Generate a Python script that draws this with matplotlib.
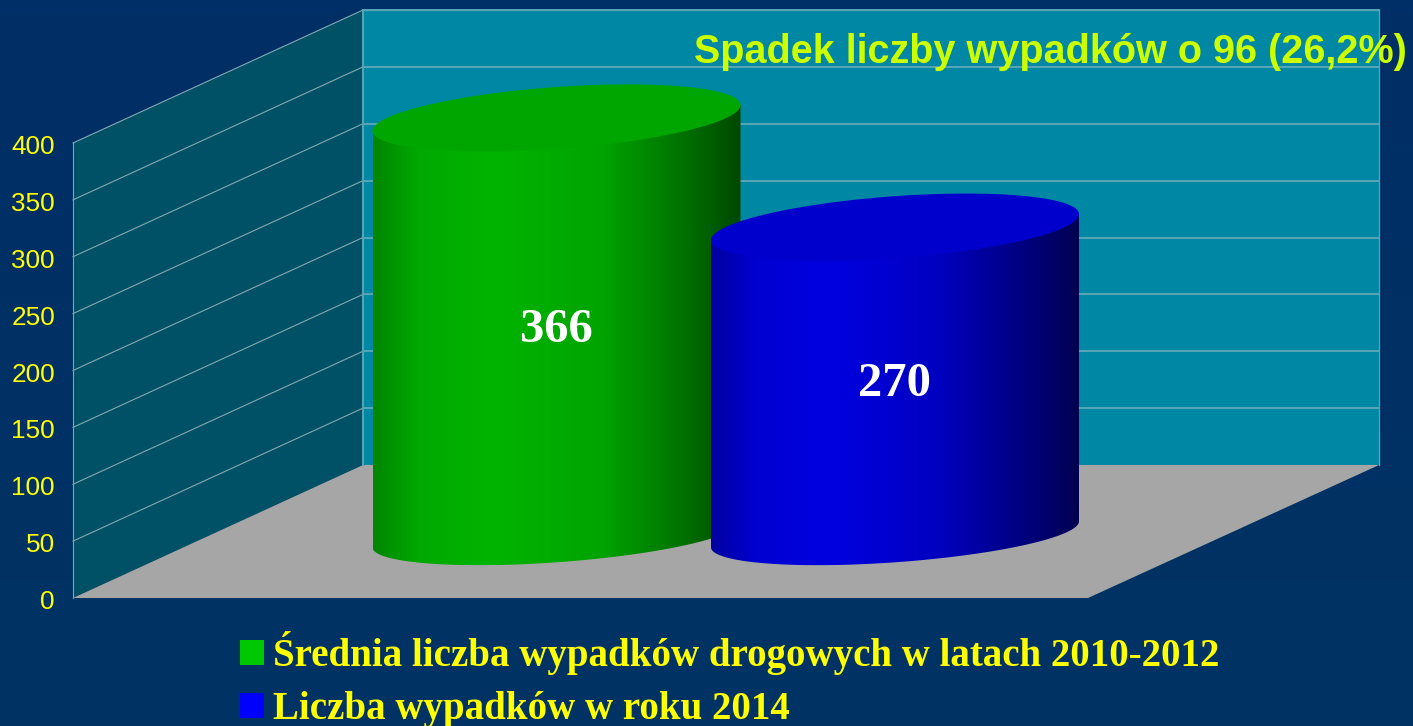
import numpy as np
import matplotlib
matplotlib.use("Agg")
import matplotlib.pyplot as plt
from matplotlib.patches import Polygon, Patch
from matplotlib.colors import LinearSegmentedColormap
from matplotlib.transforms import ScaledTranslation

# ---- data ----
series_names = ["Średnia liczba wypadków drogowych w latach 2010-2012",
                "Liczba wypadków w roku 2014"]
series_values = [366, 270]
value_labels = ["366", "270"]
y_ticks = [0, 50, 100, 150, 200, 250, 300, 350, 400]
note_text = "Spadek liczby wypadków o 96 (26,2%)"

# ---- styles / geometry (pixels of the 1413x726 canvas) ----
W, H = 1413, 726
PX_L, PX_R, PX_BOTTOM, PX_TOP = 73, 1379, 598, 143
K = (PX_BOTTOM - PX_TOP) / 400.0      # px per value unit
DEPTH_X, DEPTH_Y = 290, 133 / K       # depth offset (px, value units)
FRONT_R = 1088
YMAX = 400
centres = [556.5, 895.0]
HALF_W = 184.0
TILT = 13.0 / K
HALF_D = 31.0 / K
BASE_D = 28.0 / K
BASE = 56.0
LABEL_DROP = 3.5 / K
sides = [
    ["#008600", "#00a800", "#00b400", "#00a400", "#007000", "#004800"],
    ["#0000a0", "#0000d0", "#0000e0", "#0000c0", "#000080", "#000050"],
]
tops = ["#00a600", "#0000cc"]
swatches = ["#00c800", "#0000ff"]
stops = [0.0, 0.12, 0.32, 0.62, 0.85, 1.0]

fig = plt.figure(figsize=(W / 100, H / 100), dpi=100)

# background
bg = fig.add_axes([0, 0, 1, 1], zorder=0)
bg.imshow(np.linspace(0, 1, 64).reshape(-1, 1), aspect="auto",
          cmap=LinearSegmentedColormap.from_list("bg", ["#002e66", "#003363"]))
bg.axis("off")

ax = fig.add_axes([PX_L / W, (H - PX_BOTTOM) / H,
                   (PX_R - PX_L) / W, (PX_BOTTOM - PX_TOP) / H], zorder=1)
ax.patch.set_alpha(0)
for s in ax.spines.values():
    s.set_visible(False)
ax.set_xticks([])
ax.set_yticks(y_ticks)
ax.tick_params(axis="y", length=0, pad=13, labelcolor="#ffff00")
label_shift = ScaledTranslation(0, -0.015, fig.dpi_scale_trans)
for lab in ax.get_yticklabels():
    lab.set_fontfamily("Liberation Sans")
    lab.set_fontsize(18.8)
    lab.set_transform(lab.get_transform() + label_shift)


def poly(pts, **kw):
    p = Polygon(pts, closed=True, clip_on=False, **kw)
    ax.add_patch(p)
    return p


# walls and floor
poly([(PX_L, 0), (PX_L, YMAX), (PX_L + DEPTH_X, YMAX + DEPTH_Y), (PX_L + DEPTH_X, DEPTH_Y)],
     facecolor="#005066", edgecolor="none", zorder=1)
poly([(PX_L + DEPTH_X, DEPTH_Y), (PX_L + DEPTH_X, YMAX + DEPTH_Y),
      (PX_R, YMAX + DEPTH_Y), (PX_R, DEPTH_Y)],
     facecolor="#0087a3", edgecolor="none", zorder=1)
poly([(PX_L, 0), (PX_L + DEPTH_X, DEPTH_Y), (PX_R, DEPTH_Y), (FRONT_R, 0)],
     facecolor="#a6a6a6", edgecolor="none", zorder=2)

# gridlines
for v in y_ticks[1:]:
    ax.plot([PX_L, PX_L + DEPTH_X], [v, v + DEPTH_Y], color="#85a8b2", lw=0.8, clip_on=False, zorder=3)
    ax.plot([PX_L + DEPTH_X, PX_R], [v + DEPTH_Y, v + DEPTH_Y], color="#58a6b8", lw=1.4,
            clip_on=False, zorder=3)
ax.plot([PX_L, PX_L], [0, YMAX], color="#7fa6b0", lw=0.8, clip_on=False, zorder=3)
ax.plot([PX_L + DEPTH_X] * 2, [DEPTH_Y, YMAX + DEPTH_Y], color="#58a6b8", lw=1.4, clip_on=False, zorder=3)
ax.plot([PX_R, PX_R], [DEPTH_Y, YMAX + DEPTH_Y], color="#58a6b8", lw=0.9, clip_on=False, zorder=3)
ax.plot([PX_L + DEPTH_X, PX_R], [YMAX + DEPTH_Y] * 2, color="#58a6b8", lw=0.9, clip_on=False, zorder=3)

# cylinders
t_front = np.linspace(np.pi, 2 * np.pi, 120)
t_all = np.linspace(0, 2 * np.pi, 240)


def rim(cx, level, t, depth=HALF_D):
    return np.column_stack([cx + HALF_W * np.cos(t),
                            level + TILT * np.cos(t) + depth * np.sin(t)])


for i, val in enumerate(series_values):
    cx = centres[i]
    z = 4 + i * 3
    top_level = BASE + val
    base_arc = rim(cx, BASE, t_front, BASE_D)
    side_pts = np.vstack([rim(cx, top_level, np.array([np.pi])), base_arc,
                          rim(cx, top_level, np.array([0.0]))])
    clip = poly(side_pts, facecolor="none", edgecolor="none", zorder=z)
    cmap = LinearSegmentedColormap.from_list("c%d" % i, list(zip(stops, sides[i])))
    im = ax.imshow(np.linspace(0, 1, 256).reshape(1, -1), cmap=cmap, aspect="auto",
                   extent=[cx - HALF_W, cx + HALF_W, BASE - 60, top_level + 60],
                   interpolation="bilinear", zorder=z)
    im.set_clip_box(fig.bbox)
    im.set_clip_path(clip)
    poly(rim(cx, top_level, t_all), facecolor=tops[i], edgecolor="none", zorder=z + 1)
    ax.text(cx, BASE + val / 2 - LABEL_DROP, value_labels[i], color="white", ha="center", va="center",
            family="Liberation Serif", fontweight="bold", fontsize=35, zorder=20)

ax.set_xlim(PX_L, PX_R)
ax.set_ylim(0, YMAX)

# note
fig.text(1050.5 / W, 1 - 52 / H, note_text, color="#ccff00", ha="center", va="center",
         family="Liberation Sans", fontweight="bold", fontsize=28.5, zorder=30)

# legend
FS = 28
handles = [Patch(facecolor=c, edgecolor="none") for c in swatches]
leg = fig.legend(handles, series_names, loc="upper left",
                 bbox_to_anchor=(240 / W, 1 - 631 / H), borderaxespad=0, borderpad=0,
                 frameon=False, labelcolor="#ffff00",
                 prop={"family": "Liberation Serif", "weight": "bold", "size": FS},
                 handlelength=0.617, handleheight=0.617, handletextpad=0.23,
                 labelspacing=0.42)
leg.set_zorder(30)

fig.savefig("out.png", dpi=100, facecolor="#003264")
